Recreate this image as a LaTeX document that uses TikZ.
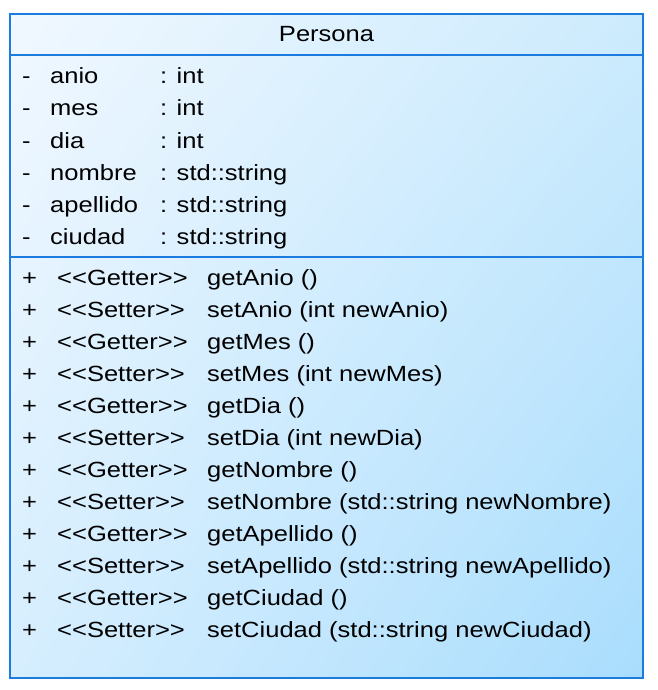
\documentclass[tikz,border=0pt]{standalone}
\usepackage{fontspec}
\setmainfont{Liberation Sans}[FakeStretch=1.16]
\usetikzlibrary{shadings}
\definecolor{bordc}{HTML}{1C7BDE}
\definecolor{ulc}{HTML}{F1F8FF}
\definecolor{urc}{HTML}{CCEBFD}
\definecolor{llc}{HTML}{D6EEFE}
\definecolor{lrc}{HTML}{A9DDFD}
\begin{document}
\begin{tikzpicture}[x=1pt,y=-1pt,
  txt/.style={anchor=base west, inner sep=0pt, font=\fontsize{22}{26}\selectfont},
  sep/.style={draw=bordc, line width=1.1pt}]
\useasboundingbox (0,0) rectangle (657,690);
\shade[upper left=ulc, upper right=urc, lower left=llc, lower right=lrc] (10,14) rectangle (643,678);
\coordinate (tl) at (10,14);
\coordinate (br) at (643,678);
\draw[sep] (tl) rectangle (br);
\coordinate (s1l) at (10,55); \coordinate (s1r) at (643,55);
\coordinate (s2l) at (10,257); \coordinate (s2r) at (643,257);
\draw[sep] (s1l) -- (s1r);
\draw[sep] (s2l) -- (s2r);
\node[anchor=base, inner sep=0pt, font=\fontsize{22}{26}\selectfont] (title) at (326.5,42) {Persona};
% attributes
\foreach \n/\t [count=\i from 0] in {anio/int, mes/int, dia/int, nombre/std::string, apellido/std::string, ciudad/std::string}{
  \pgfmathsetmacro{\yy}{84+32*\i}
  \node[txt] (am\i) at (22,\yy) {-};
  \node[txt] (an\i) at (50,\yy) {\n};
  \node[txt] (at\i) at (160,\yy) {: \t};
}
% methods
\foreach \s/\m [count=\i from 0] in {Getter/getAnio (), Setter/setAnio (int newAnio), Getter/getMes (), Setter/setMes (int newMes), Getter/getDia (), Setter/setDia (int newDia), Getter/getNombre (), Setter/setNombre (std::string newNombre), Getter/getApellido (), Setter/setApellido (std::string newApellido), Getter/getCiudad (), Setter/setCiudad (std::string newCiudad)}{
  \pgfmathsetmacro{\yy}{285.5+32*\i}
  \node[txt] (mp\i) at (22,\yy) {+};
  \node[txt] (ms\i) at (57,\yy) {<{}<\s>{}>};
  \node[txt] (mn\i) at (207,\yy) {\m};
}
\end{tikzpicture}
\end{document}
